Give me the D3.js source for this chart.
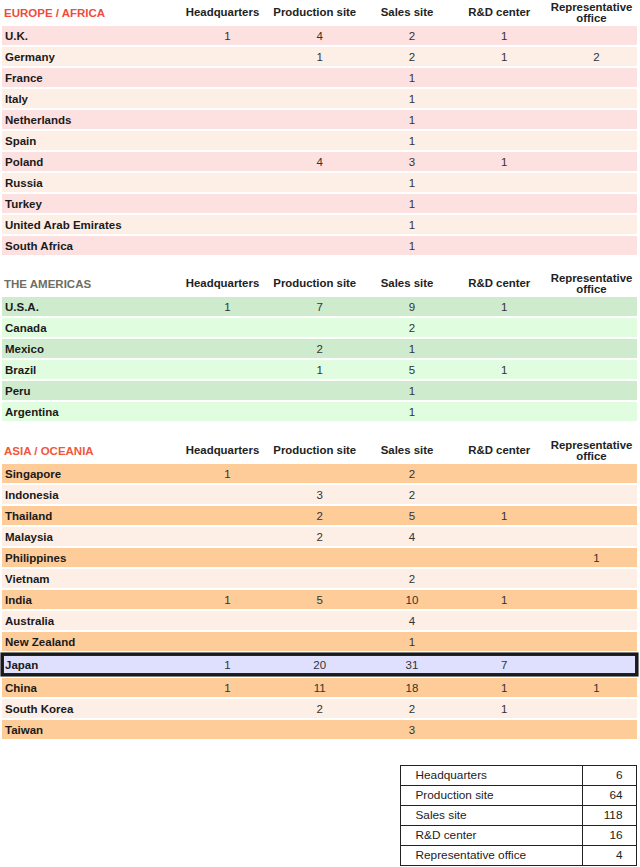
<!DOCTYPE html>
<html>
<head>
<meta charset="utf-8">
<script src="https://cdn.jsdelivr.net/npm/d3@7"></script>
<style>
html,body{margin:0;padding:0;background:#fff;}
svg{display:block;font-family:"Liberation Sans",Arial,sans-serif;}
</style>
</head>
<body>
<svg id="chart" width="640" height="867"></svg>
<script>
// ---------- DATA ----------
const columns = ["Headquarters", "Production site", "Sales site", "R&D center", "Representative office"];

const europeTitle = "EUROPE / AFRICA";
const europeCountries = ["U.K.", "Germany", "France", "Italy", "Netherlands", "Spain", "Poland", "Russia", "Turkey", "United Arab Emirates", "South Africa"];
const europeValues = [
  [1, 4, 2, 1, null],
  [null, 1, 2, 1, 2],
  [null, null, 1, null, null],
  [null, null, 1, null, null],
  [null, null, 1, null, null],
  [null, null, 1, null, null],
  [null, 4, 3, 1, null],
  [null, null, 1, null, null],
  [null, null, 1, null, null],
  [null, null, 1, null, null],
  [null, null, 1, null, null]
];

const americasTitle = "THE AMERICAS";
const americasCountries = ["U.S.A.", "Canada", "Mexico", "Brazil", "Peru", "Argentina"];
const americasValues = [
  [1, 7, 9, 1, null],
  [null, null, 2, null, null],
  [null, 2, 1, null, null],
  [null, 1, 5, 1, null],
  [null, null, 1, null, null],
  [null, null, 1, null, null]
];

const asiaTitle = "ASIA / OCEANIA";
const asiaCountries = ["Singapore", "Indonesia", "Thailand", "Malaysia", "Philippines", "Vietnam", "India", "Australia", "New Zealand", "Japan", "China", "South Korea", "Taiwan"];
const asiaValues = [
  [1, null, 2, null, null],
  [null, 3, 2, null, null],
  [null, 2, 5, 1, null],
  [null, 2, 4, null, null],
  [null, null, null, null, 1],
  [null, null, 2, null, null],
  [1, 5, 10, 1, null],
  [null, null, 4, null, null],
  [null, null, 1, null, null],
  [1, 20, 31, 7, null],
  [1, 11, 18, 1, 1],
  [null, 2, 2, 1, null],
  [null, null, 3, null, null]
];

const highlightCountry = "Japan";

const summaryLabels = ["Headquarters", "Production site", "Sales site", "R&D center", "Representative office"];
const summaryValues = [6, 64, 118, 16, 4];

// ---------- STYLE ----------
const sections = [
  {title: europeTitle, countries: europeCountries, values: europeValues, top: 0,
   titleColor: "#f04b3c", colors: ["#fde0e0", "#fdeee6"]},
  {title: americasTitle, countries: americasCountries, values: americasValues, top: 271,
   titleColor: "#6e6e62", colors: ["#ceebce", "#e0fde0"]},
  {title: asiaTitle, countries: asiaCountries, values: asiaValues, top: 438,
   titleColor: "#f0583c", colors: ["#fecc99", "#fdefe6"]}
];

const svg = d3.select("#chart");

const xCol = d3.scalePoint().domain(columns).range([222.5, 591.5]);
const numOffset = 5;
const rowLeft = 2, rowRight = 637;
const bandH = 19, headerH = 26, highlightExtra = 4;

sections.forEach(sec => {
  const g = svg.append("g").attr("transform", `translate(0,${sec.top})`);
  g.append("text").attr("x", 4).attr("y", 12.5).attr("dy", "0.35em")
    .attr("fill", sec.titleColor).attr("font-size", 11.5).attr("font-weight", "bold")
    .text(sec.title);
  columns.forEach(c => {
    const words = c === "Representative office" ? ["Representative", "office"] : [c];
    const t = g.append("text").attr("x", xCol(c)).attr("text-anchor", "middle")
      .attr("fill", "#222").attr("font-size", 11.4).attr("font-weight", "bold");
    if (words.length === 1) {
      t.attr("y", 12.5).attr("dy", "0.35em").text(c);
    } else {
      words.forEach((w, i) => t.append("tspan").attr("x", xCol(c)).attr("y", 7 + i * 11).attr("dy", "0.35em").text(w));
    }
  });
  let y = headerH;
  const rows = sec.countries.map((name, i) => {
    const hl = name === highlightCountry;
    const h = hl ? bandH + highlightExtra : bandH;
    const r = {name, vals: sec.values[i], y, h, hl, i};
    y += h + 2;
    return r;
  });
  const rg = g.selectAll("g.row").data(rows).join("g").attr("class", "row")
    .attr("transform", d => `translate(0,${d.y})`);
  rg.append("rect").attr("x", rowLeft).attr("y", 0)
    .attr("width", rowRight - rowLeft).attr("height", d => d.h)
    .attr("fill", d => d.hl ? "#dfe0fe" : sec.colors[d.i % 2]);
  rg.filter(d => d.hl).append("rect")
    .attr("x", 2.2).attr("y", 1.2).attr("width", 634.6).attr("height", d => d.h - 2.4)
    .attr("fill", "none").attr("stroke", "#1a1a1a").attr("stroke-width", 3.5);
  rg.append("text").attr("x", 5).attr("y", d => d.h / 2 + 0.8).attr("dy", "0.35em")
    .attr("fill", "#1a1a1a").attr("font-size", 11.5).attr("font-weight", "bold")
    .text(d => d.name);
  rg.each(function(d) {
    const row = d3.select(this);
    columns.forEach((c, j) => {
      if (d.vals[j] == null) return;
      row.append("text").attr("x", xCol(c) + numOffset).attr("y", d.h / 2 + 0.8).attr("dy", "0.35em")
        .attr("text-anchor", "middle").attr("fill", "#333").attr("font-size", 11.5)
        .text(d.vals[j]);
    });
  });
});

// ---------- SUMMARY TABLE ----------
const sx0 = 400.5, sx1 = 636.5, sDiv = 582.5, sTop = 765.5, sRowH = 20;
const ys = d3.scaleBand().domain(summaryLabels).range([sTop, sTop + sRowH * summaryLabels.length]);
const sg = svg.append("g");
sg.append("rect").attr("x", sx0).attr("y", sTop).attr("width", sx1 - sx0)
  .attr("height", sRowH * summaryLabels.length).attr("fill", "#fff").attr("stroke", "#222").attr("stroke-width", 1);
sg.append("line").attr("x1", sDiv).attr("x2", sDiv).attr("y1", sTop).attr("y2", sTop + sRowH * summaryLabels.length)
  .attr("stroke", "#222");
sg.selectAll("line.h").data(summaryLabels.slice(1)).join("line").attr("class", "h")
  .attr("x1", sx0).attr("x2", sx1).attr("y1", d => ys(d)).attr("y2", d => ys(d)).attr("stroke", "#222");
sg.selectAll("text.l").data(summaryLabels).join("text").attr("class", "l")
  .attr("x", 415.5).attr("y", d => ys(d) + ys.bandwidth() / 2 - 1).attr("dy", "0.35em")
  .attr("font-size", 11.8).attr("fill", "#222").text(d => d);
sg.selectAll("text.v").data(summaryValues).join("text").attr("class", "v")
  .attr("x", 622.5).attr("y", (d, i) => ys(summaryLabels[i]) + ys.bandwidth() / 2 - 1).attr("dy", "0.35em")
  .attr("text-anchor", "end").attr("font-size", 11.8).attr("fill", "#222").text(d => d);
</script>
</body>
</html>
